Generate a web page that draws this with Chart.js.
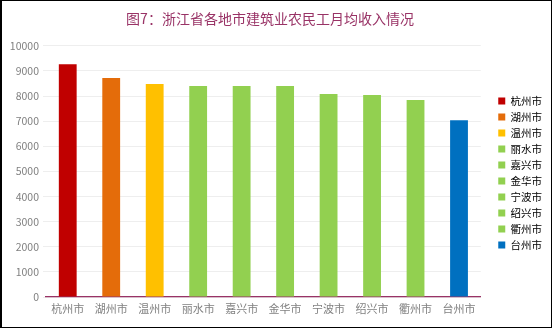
<!DOCTYPE html>
<html>
<head>
<meta charset="utf-8">
<script src="https://cdn.jsdelivr.net/npm/chart.js@4.4.1/dist/chart.umd.min.js"></script>
<style>
  html, body { margin: 0; padding: 0; background: #fff; }
  #wrap { position: relative; width: 552px; height: 328px; }
  #frame { position: absolute; left: 0; top: 0; width: 552px; height: 328px; box-sizing: border-box; border: 1px solid #000; border-left-width: 2px; pointer-events: none; }
  canvas { position: absolute; left: 0; top: 0; }
</style>
</head>
<body>
<div id="wrap">
  <canvas id="c" width="552" height="328"></canvas>
  <div id="frame"></div>
</div>
<script>
const categories = ['杭州市', '湖州市', '温州市', '丽水市', '嘉兴市', '金华市', '宁波市', '绍兴市', '衢州市', '台州市'];
const incomes = [9270, 8720, 8480, 8400, 8400, 8400, 8080, 8040, 7840, 7040];
const yTicks = [0, 1000, 2000, 3000, 4000, 5000, 6000, 7000, 8000, 9000, 10000];
const chartTitle = '图7：浙江省各地市建筑业农民工月均收入情况';

const barColors = ['#C00000', '#E46C0A', '#FFC000', '#92D050', '#92D050', '#92D050', '#92D050', '#92D050', '#92D050', '#0070C0'];
const FONT = "'Noto Sans CJK SC', 'Microsoft YaHei', sans-serif";

const legendShift = {
  id: 'legendShift',
  afterLayout(chart) {
    const lg = chart.legend;
    if (lg) { lg.left += 12; lg.right += 12; lg.top += 9; lg.bottom += 9; }
  }
};

new Chart(document.getElementById('c'), {
  type: 'bar',
  data: {
    labels: categories,
    datasets: [{
      data: incomes,
      backgroundColor: barColors,
      borderWidth: 0,
      categoryPercentage: 1,
      barPercentage: 0.41
    }]
  },
  plugins: [legendShift],
  options: {
    responsive: false,
    animation: false,
    devicePixelRatio: 1,
    layout: { padding: { left: 0, right: 12, top: 0, bottom: 0 } },
    plugins: {
      title: {
        display: true,
        text: chartTitle,
        color: '#993366',
        font: { family: FONT, size: 14, weight: 'normal' },
        padding: { top: 10, bottom: 19 }
      },
      legend: {
        display: true,
        position: 'right',
        labels: {
          boxWidth: 7,
          boxHeight: 7,
          padding: 5.5,
          color: '#7f7f7f',
          font: { family: FONT, size: 10.5 },
          generateLabels: (chart) => {
            const ds = chart.data.datasets[0];
            return chart.data.labels.map((lab, i) => ({
              text: lab,
              fillStyle: ds.backgroundColor[i],
              strokeStyle: ds.backgroundColor[i],
              lineWidth: 0,
              hidden: false,
              index: i,
              datasetIndex: 0
            }));
          }
        }
      },
      tooltip: { enabled: false }
    },
    scales: {
      x: {
        grid: { display: false, drawTicks: false, tickLength: 0 },
        border: { display: true, color: '#993366', width: 1.3 },
        ticks: { color: '#808080', font: { family: FONT, size: 11 }, padding: 5, maxRotation: 0 },
        afterFit: (s) => { s.height = 31; }
      },
      y: {
        min: 0,
        max: 10000,
        afterBuildTicks: (s) => { s.ticks = yTicks.map(v => ({ value: v })); },
        grid: { color: '#eeeeee', lineWidth: 1, tickLength: 3, drawTicks: true },
        border: { display: false },
        ticks: { color: '#808080', font: { family: FONT, size: 10.5 }, padding: 4, callback: (v) => String(v) },
        afterFit: (s) => { s.width = 46; }
      }
    }
  }
});
</script>
</body>
</html>
